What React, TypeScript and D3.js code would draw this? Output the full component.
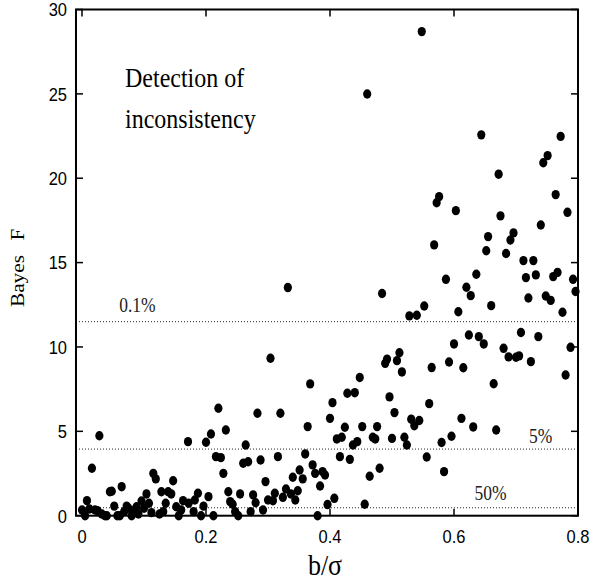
import React from "react";
import * as d3 from "d3";

const bSigma = [
  0.0, 0.005, 0.008, 0.012, 0.016, 0.021, 0.025, 0.028, 0.032, 0.037,
  0.040, 0.045, 0.048, 0.052, 0.057, 0.061, 0.064, 0.068, 0.072, 0.075,
  0.080, 0.085, 0.088, 0.091, 0.096, 0.100, 0.104, 0.108, 0.112, 0.115,
  0.119, 0.125, 0.128, 0.131, 0.135, 0.139, 0.144, 0.147, 0.152, 0.156,
  0.160, 0.163, 0.171, 0.172, 0.180, 0.182, 0.187, 0.192, 0.196, 0.200,
  0.204, 0.208, 0.212, 0.216, 0.220, 0.224, 0.228, 0.232, 0.236, 0.239,
  0.243, 0.247, 0.252, 0.255, 0.260, 0.264, 0.268, 0.272, 0.276, 0.280,
  0.283, 0.288, 0.292, 0.296, 0.300, 0.304, 0.308, 0.311, 0.316, 0.320,
  0.324, 0.329, 0.332, 0.337, 0.340, 0.344, 0.348, 0.351,
  0.356, 0.360, 0.364, 0.368, 0.372, 0.376, 0.380, 0.384, 0.388, 0.392,
  0.396, 0.400, 0.404, 0.407, 0.411, 0.419, 0.416, 0.424, 0.428, 0.432,
  0.437, 0.440, 0.444, 0.448, 0.452, 0.456, 0.460, 0.464, 0.469, 0.473,
  0.476, 0.480, 0.484, 0.489, 0.492, 0.496, 0.500, 0.504, 0.508, 0.512,
  0.516, 0.520, 0.524, 0.528, 0.531, 0.536, 0.540, 0.544, 0.548, 0.552,
  0.556, 0.560, 0.564, 0.568, 0.572, 0.576, 0.580, 0.584, 0.587, 0.592,
  0.596, 0.600, 0.603, 0.607, 0.612,
  0.615, 0.620, 0.624, 0.627, 0.631, 0.636, 0.640, 0.644, 0.648, 0.652,
  0.655, 0.660, 0.664, 0.668, 0.672, 0.675, 0.680, 0.684, 0.688, 0.691,
  0.696, 0.700, 0.705, 0.708, 0.712, 0.716, 0.720, 0.724, 0.728, 0.732,
  0.736, 0.740, 0.744, 0.748, 0.751, 0.756, 0.760, 0.764, 0.767, 0.772,
  0.775, 0.780, 0.783, 0.788, 0.792, 0.796,
];

const bayesF = [
  0.34, 0.0, 0.89, 0.40, 2.81, 0.34, 0.30, 4.74, 0.10, 0.0,
  0.0, 1.42, 1.45, 0.57, 0.0, 0.0, 1.72, 0.24, 0.57, 0.44,
  0.0, 0.34, 0.53, 0.10, 0.87, 0.44, 1.29, 0.74, 0.18, 2.51,
  2.18, 0.10, 1.42, 0.24, 0.74, 1.42, 1.29, 2.07, 0.53, 0.0,
  0.34, 0.89, 4.39, 0.74, 0.24, 0.93, 1.33, 0.0, 0.57, 4.35,
  1.13, 4.84, 0.0, 3.50, 6.37, 3.44, 2.51, 5.08, 1.42, 0.83,
  0.68, 0.24, 0.0, 1.29, 3.11, 4.19, 3.20, 0.24, 1.23, 0.77,
  6.07, 3.30, 0.34, 2.02, 0.93, 9.33, 0.89, 1.33, 3.50, 6.07,
  1.09, 1.58, 13.52, 1.29, 2.28, 0.93, 1.48, 2.71,
  2.18, 3.66, 5.28, 7.81, 3.01, 2.51, 0.0, 1.76, 2.61, 2.41,
  0.66, 5.77, 6.70, 1.03, 4.55, 4.65, 3.50, 5.24, 7.26, 3.34,
  4.19, 7.29, 4.39, 8.19, 5.28, 0.68, 24.99, 2.34, 4.65, 4.55,
  5.28, 2.81, 13.17, 9.03, 9.28, 7.04, 4.58, 6.11, 9.19, 9.66,
  8.52, 4.65, 4.19, 11.84, 5.72, 5.33, 11.88, 5.64, 28.69, 12.43,
  3.48, 6.64, 8.78, 16.05, 18.55, 18.91, 4.34, 2.61, 14.01, 9.11,
  4.71, 10.18, 18.08, 12.09, 5.77,
  8.77, 13.54, 10.71, 13.04, 5.26, 14.31, 10.61, 22.57, 10.18, 15.70,
  16.54, 12.45, 7.82, 5.08, 20.24, 17.77, 9.92, 15.54, 9.41, 16.34,
  16.76, 9.39, 9.47, 10.86, 15.12, 14.11, 12.90, 9.13, 15.12, 14.27,
  10.61, 17.23, 20.92, 13.02, 21.34, 12.76, 14.17, 19.03, 14.42, 22.48,
  12.06, 8.34, 17.98, 9.98, 14.01, 13.29,
];

const xTicks = [0, 0.2, 0.4, 0.6, 0.8];
const xTickLabels = ["0", "0.2", "0.4", "0.6", "0.8"];
const yTicks = [0, 5, 10, 15, 20, 25, 30];
const thresholdValues = [11.5, 3.95, 0.47];
const thresholdLabels = ["0.1%", "5%", "50%"];
const thresholdLabelX = [0.06, 0.721, 0.633];

const W = 593;
const H = 586;
const SY = 1.15;

export default function App() {
  const x = d3.scaleLinear().domain([0, 0.8]).range([82, 578]);
  const y = d3.scaleLinear().domain([0, 30]).range([515.7, 9.5]);
  const left = x(-0.0097);
  const right = x(0.8);
  const top = y(30);
  const bottom = y(0);
  const tickLen = 7;
  const sans = "'Liberation Sans', Arial, sans-serif";
  const serif = "'Liberation Serif', 'Times New Roman', serif";

  const labelBaseOffset = [-9.5, -6.5, -8];

  return (
    <svg
      width={W}
      height={H}
      style={{ position: "absolute", left: 0, top: 0, background: "#fff" }}
    >
      <rect x={0} y={0} width={W} height={H} fill="#fff" />
      {/* threshold dotted lines */}
      {thresholdValues.map((v, i) => (
        <line
          key={"th" + i}
          x1={left}
          x2={right}
          y1={y(v)}
          y2={y(v)}
          stroke="#222"
          strokeWidth={1}
          strokeDasharray="1 2"
        />
      ))}
      {thresholdValues.map((v, i) => (
        <text
          key={"thl" + i}
          transform={`translate(${x(thresholdLabelX[i])},${y(v) + labelBaseOffset[i]}) scale(1,${SY})`}
          fontFamily={serif}
          fontSize={17.5}
          fill="#222"
        >
          {thresholdLabels[i]}
        </text>
      ))}
      {/* points */}
      {bSigma.map((b, i) => (
        <ellipse
          key={"p" + i}
          cx={x(b)}
          cy={y(bayesF[i])}
          rx={4.1}
          ry={4.7}
          fill="#000"
        />
      ))}
      {/* frame */}
      <rect
        x={left}
        y={top}
        width={right - left}
        height={bottom - top}
        fill="none"
        stroke="#000"
        strokeWidth={2}
      />
      {/* x ticks */}
      {xTicks.map((t, i) => (
        <g key={"xt" + i}>
          <line x1={x(t)} x2={x(t)} y1={bottom} y2={bottom - tickLen} stroke="#000" strokeWidth={1.5} />
          <line x1={x(t)} x2={x(t)} y1={top} y2={top + tickLen} stroke="#000" strokeWidth={1.5} />
          <text
            transform={`translate(${x(t)},543) scale(1,${SY})`}
            textAnchor="middle"
            fontFamily={sans}
            fontSize={16.5}
            fill="#000"
          >
            {xTickLabels[i]}
          </text>
        </g>
      ))}
      {/* y ticks */}
      {yTicks.map((t, i) => (
        <g key={"yt" + i}>
          <line x1={left} x2={left + tickLen} y1={y(t)} y2={y(t)} stroke="#000" strokeWidth={1.5} />
          <line x1={right} x2={right - tickLen} y1={y(t)} y2={y(t)} stroke="#000" strokeWidth={1.5} />
          <text
            transform={`translate(67,${y(t) + 6.8}) scale(1,${SY})`}
            textAnchor="end"
            fontFamily={sans}
            fontSize={16.5}
            fill="#000"
          >
            {String(t)}
          </text>
        </g>
      ))}
      {/* annotation */}
      <text
        transform={`translate(125,87) scale(1,${SY})`}
        fontFamily={serif}
        fontSize={24}
        fill="#000"
      >
        Detection of
      </text>
      <text
        transform={`translate(125,128) scale(1,${SY})`}
        fontFamily={serif}
        fontSize={24}
        fill="#000"
      >
        inconsistency
      </text>
      {/* axis titles */}
      <text
        transform={`translate(325,575) scale(1,${SY})`}
        textAnchor="middle"
        fontFamily={serif}
        fontSize={26}
        fill="#000"
      >
        b/σ
      </text>
      <text
        transform={`translate(24,307) rotate(-90) scale(${SY},1)`}
        textAnchor="start"
        fontFamily={serif}
        fontSize={18.5}
        fill="#000"
      >
        Bayes <tspan dx={8}>F</tspan>
      </text>
    </svg>
  );
}
